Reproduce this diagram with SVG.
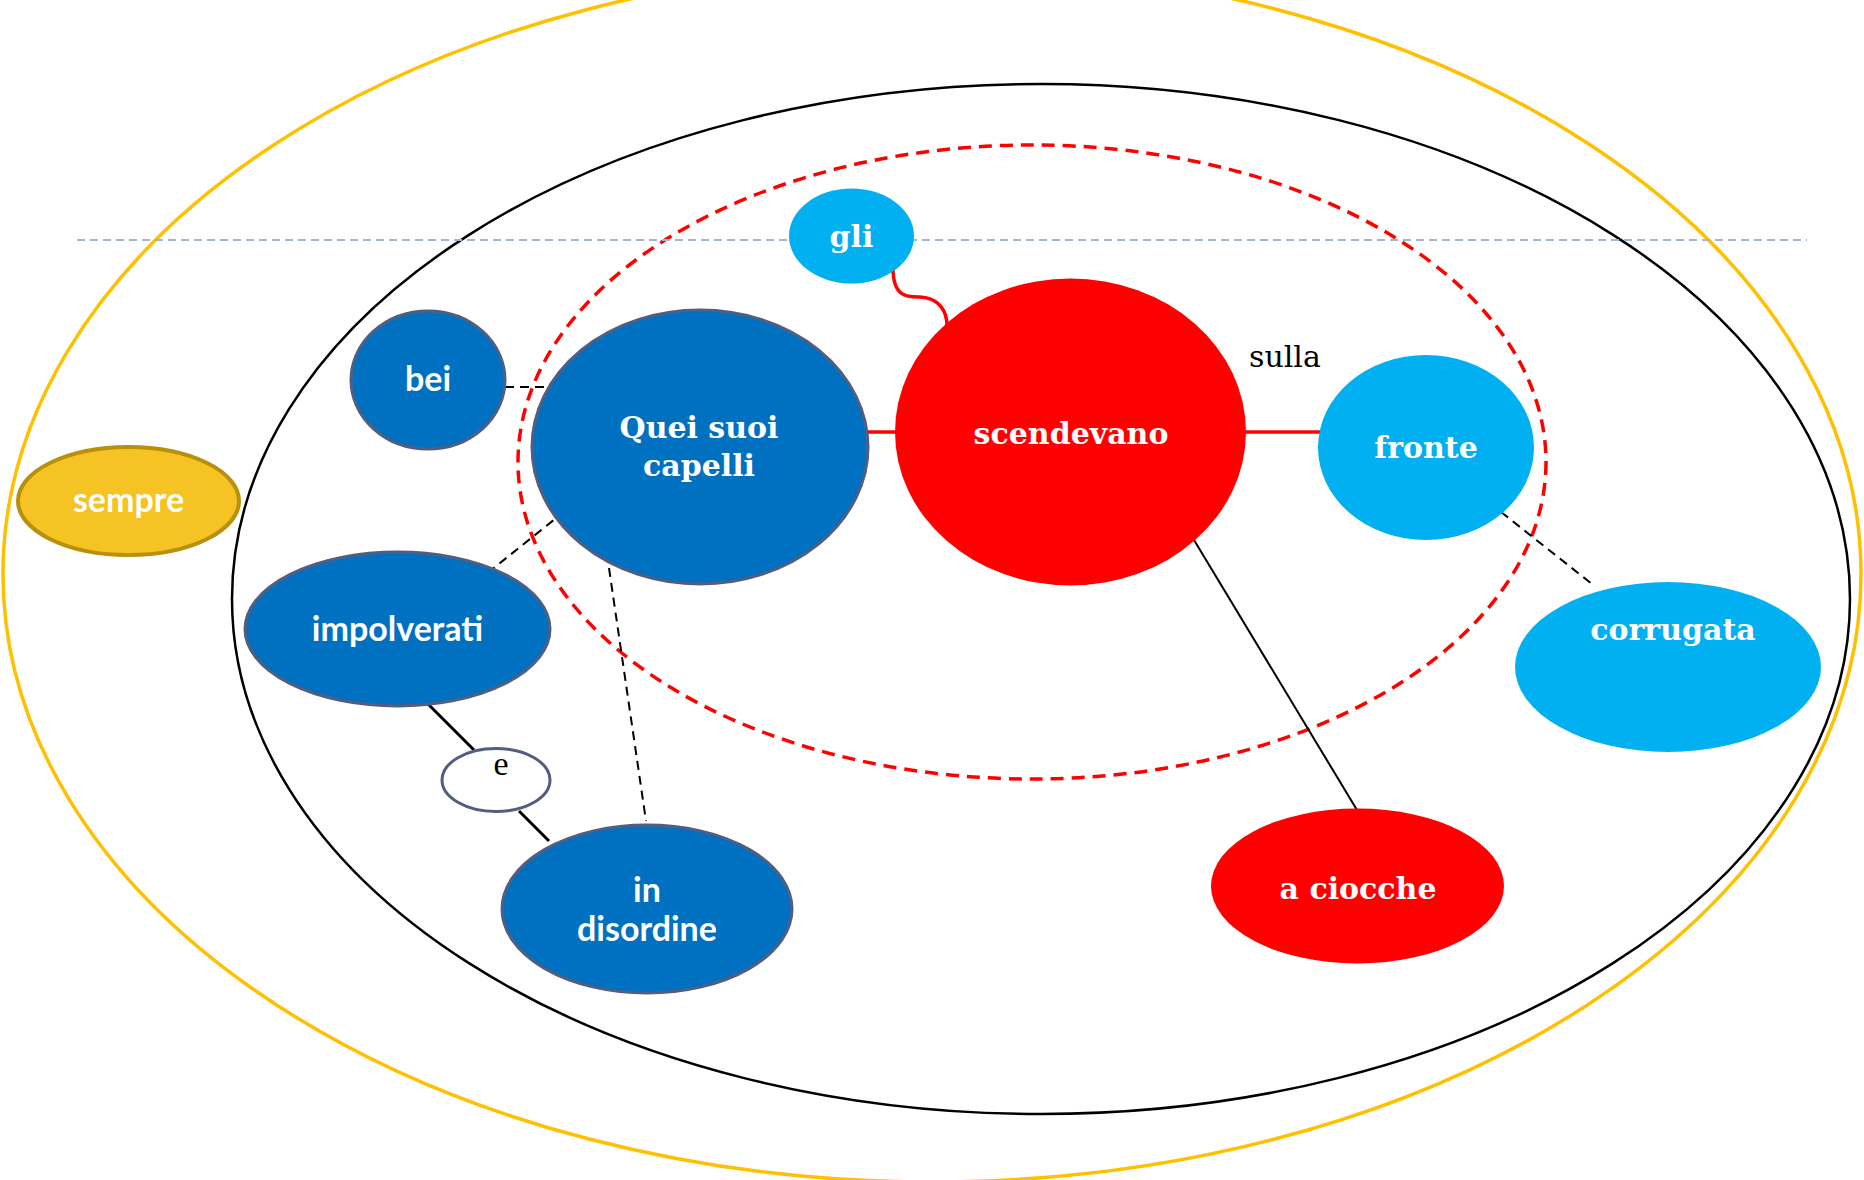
<svg xmlns="http://www.w3.org/2000/svg" width="1864" height="1180" viewBox="0 0 1864 1180">
<style>
.bg{fill:#fff}
.ring{fill:none}
.dblue{fill:#0070C0;stroke:#525E80;stroke-width:3}
.lblue{fill:#00B0F0}
.red{fill:#FF0000}
.gold{fill:#F5C323;stroke:#B8900C;stroke-width:4}
.small{fill:#fff;stroke:#525E80;stroke-width:3}
.ts{font-family:"DejaVu Serif","Liberation Serif",serif;font-weight:bold;fill:#fff;text-anchor:middle;font-size:30px}
.tn{font-family:"Lato","Open Sans","Liberation Sans",sans-serif;font-weight:bold;fill:#fff;text-anchor:middle;font-size:34px}
.lbl{font-family:"DejaVu Serif","Liberation Serif",serif;fill:#000}
.dash{fill:none;stroke:#000;stroke-width:2;stroke-dasharray:9 6}
.solid{fill:none;stroke:#000;stroke-width:3}
.thin{fill:none;stroke:#000;stroke-width:2}
.rline{fill:none;stroke:#FF0000;stroke-width:3.5}
</style>
<rect class="bg" x="0" y="0" width="1864" height="1180"/>
<g id="frames">
<ellipse class="ring" cx="932" cy="574" rx="929" ry="608" stroke="#FFC000" stroke-width="3.5"/>
<ellipse class="ring" cx="1041" cy="599" rx="809" ry="515" stroke="#000" stroke-width="2.5"/>
<ellipse class="ring" cx="1032" cy="462" rx="514" ry="317" stroke="#FF0000" stroke-width="3.5" stroke-dasharray="13 8"/>
<line x1="77" y1="240" x2="1807" y2="240" stroke="#A4B6CC" stroke-width="2" stroke-dasharray="8 5"/>
</g>
<g id="connectors">
<path class="rline" d="M893 268 C893 298 908 297 920 297 C940 298 947 312 947 326"/>
<line class="rline" x1="866" y1="432" x2="897" y2="432"/>
<line class="rline" x1="1244" y1="432" x2="1320" y2="432"/>
<line class="dash" x1="505" y1="387" x2="551" y2="387"/>
<line class="dash" x1="565" y1="511" x2="490" y2="571"/>
<line class="dash" x1="609" y1="568" x2="646" y2="821"/>
<line class="dash" x1="1501" y1="512" x2="1592" y2="584"/>
<line class="solid" x1="428" y1="704" x2="474" y2="750"/>
<line class="solid" x1="519" y1="811" x2="549" y2="841"/>
<line class="thin" x1="1194" y1="540" x2="1357" y2="810"/>
</g>
<g id="sempre"><ellipse class="gold" cx="128.5" cy="501" rx="110.5" ry="54"/><text class="tn" x="128.5" y="512">sempre</text></g>
<g id="bei"><ellipse class="dblue" cx="428" cy="380" rx="77" ry="69"/><text class="tn" x="428" y="391">bei</text></g>
<g id="quei"><ellipse class="dblue" cx="700" cy="447" rx="168" ry="137"/><text class="ts" x="699" y="438">Quei suoi</text><text class="ts" x="699" y="476">capelli</text></g>
<g id="gli"><ellipse class="lblue" cx="851.5" cy="236" rx="62.5" ry="47.5"/><text class="ts" x="851.5" y="247">gli</text></g>
<g id="scendevano"><ellipse class="red" cx="1070.5" cy="432" rx="175.5" ry="153.5"/><text class="ts" x="1071" y="444">scendevano</text></g>
<g id="sulla"><text class="lbl" x="1249" y="367" font-size="30">sulla</text></g>
<g id="fronte"><ellipse class="lblue" cx="1426" cy="447.5" rx="108" ry="92.5"/><text class="ts" x="1426" y="458">fronte</text></g>
<g id="corrugata"><ellipse class="lblue" cx="1668" cy="667" rx="153" ry="85"/><text class="ts" x="1673" y="640">corrugata</text></g>
<g id="aciocche"><ellipse class="red" cx="1357.5" cy="886" rx="146.5" ry="77.5"/><text class="ts" x="1358" y="899">a ciocche</text></g>
<g id="impolverati"><ellipse class="dblue" cx="397.5" cy="629" rx="152.5" ry="77"/><text class="tn" x="397.5" y="641">impolverati</text></g>
<g id="e"><ellipse class="small" cx="496" cy="780" rx="54" ry="31.5"/><text x="501" y="775" font-size="34" text-anchor="middle" font-family="Liberation Serif, serif" fill="#000">e</text></g>
<g id="indisordine"><ellipse class="dblue" cx="647" cy="909" rx="145" ry="84"/><text class="tn" x="647" y="902">in</text><text class="tn" x="647" y="941">disordine</text></g>
</svg>
